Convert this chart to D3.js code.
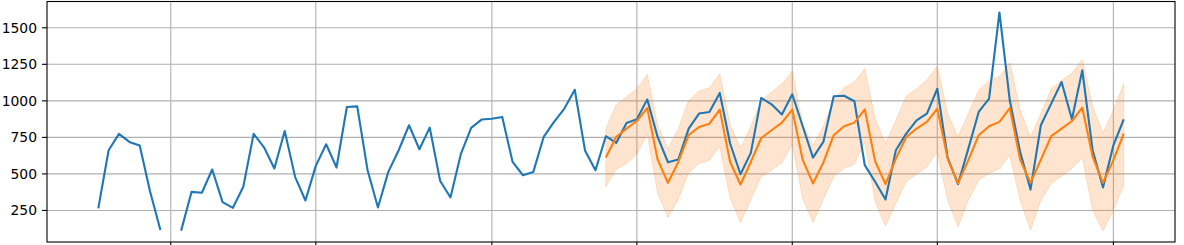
<!DOCTYPE html>
<html>
<head>
<meta charset="utf-8">
<script src="https://cdn.jsdelivr.net/npm/d3@7"></script>
<style>
  body { margin: 0; background: #fff; }
  svg { display: block; font-family: "DejaVu Sans", sans-serif; }
</style>
</head>
<body>
<div id="chart"></div>
<script>
// daily observations, starting 2019-12-25 (Jan 1 missing)
const startDate = new Date(2019, 11, 25);
const observed = [264, 662, 774, 719, 694, 380, 116, null, 112, 377,
  371, 530, 307, 268, 412, 774, 682, 537, 794, 480,
  318, 555, 703, 544, 958, 962, 525, 270, 514, 662,
  833, 669, 817, 453, 339, 635, 815, 872, 878, 890,
  582, 491, 514, 753, 856, 947, 1076, 658, 525, 758,
  712, 849, 874, 1010, 753, 580, 598, 810, 913, 924,
  1054, 708, 498, 644, 1020, 976, 906, 1045, 828, 612,
  719, 1031, 1035, 997, 560, 446, 325, 662, 776, 867,
  913, 1083, 612, 430, 673, 924, 1015, 1605, 1004, 651,
  393, 833, 981, 1129, 874, 1209, 662, 407, 696, 874];

// forecast starts at day index 49
const forecastStart = 49;
const forecast = [612, 753, 810, 862, 951, 598, 439, 582, 765, 821,
  844, 940, 582, 428, 582, 746, 799, 851, 940, 598,
  435, 578, 765, 826, 851, 942, 587, 430, 605, 753,
  810, 856, 947, 605, 435, 594, 765, 826, 856, 951,
  598, 439, 598, 758, 810, 862, 953, 617, 439, 594, 776];
const upper = [810, 974, 1026, 1083, 1181, 833, 673, 810, 1003, 1067,
  1090, 1186, 837, 678, 826, 1003, 1060, 1117, 1202, 840,
  696, 826, 1008, 1090, 1129, 1220, 878, 708, 867, 1031,
  1083, 1144, 1238, 913, 753, 913, 1072, 1140, 1167, 1261,
  935, 753, 913, 1083, 1140, 1190, 1281, 958, 780, 935, 1117];
const lower = [412, 530, 571, 635, 776, 366, 202, 327, 507, 571,
  594, 689, 332, 168, 325, 480, 525, 576, 703, 334,
  168, 325, 484, 537, 566, 719, 309, 143, 298, 446,
  498, 548, 651, 320, 138, 320, 457, 503, 537, 628,
  320, 116, 320, 434, 484, 537, 612, 252, 109, 252, 423];

const yTicks = [250, 500, 750, 1000, 1250, 1500];

const W = 1184, H = 245;
const margin = {left: 47, right: 9, top: 1.5, bottom: 3};

const days = observed.map((v, i) => d3.timeDay.offset(startDate, i));
const obsData = observed.map((v, i) => ({date: days[i], v: v}));
const fcData = forecast.map((v, i) => ({
  date: days[forecastStart + i], v: v,
  lo: lower[i], hi: upper[i]
}));

// matplotlib-like 5% padding
const t0 = +days[0], t1 = +days[days.length - 1];
const padT = (t1 - t0) * 0.05;
const x = d3.scaleTime()
  .domain([new Date(t0 - padT), new Date(t1 + padT)])
  .range([margin.left, W - margin.right]);

const allVals = observed.filter(v => v != null).concat(forecast, upper, lower);
const vMin = d3.min(allVals), vMax = d3.max(allVals);
const padV = (vMax - vMin) * 0.05;
const y = d3.scaleLinear()
  .domain([vMin - padV, vMax + padV])
  .range([H - margin.bottom, margin.top]);

// grid ticks on the 1st and 15th of each month
const xTicks = days.filter(d => d.getDate() === 1 || d.getDate() === 15);

const svg = d3.select('#chart').append('svg')
  .attr('width', W).attr('height', H);

const x0 = margin.left, x1 = W - margin.right;
const y0 = H - margin.bottom, y1 = margin.top;

// grid
svg.append('g').selectAll('line.gx')
  .data(xTicks).enter().append('line')
  .attr('x1', d => x(d)).attr('x2', d => x(d))
  .attr('y1', y0).attr('y2', y1)
  .attr('stroke', '#b0b0b0').attr('stroke-width', 1.1);
svg.append('g').selectAll('line.gy')
  .data(yTicks).enter().append('line')
  .attr('x1', x0).attr('x2', x1)
  .attr('y1', d => y(d)).attr('y2', d => y(d))
  .attr('stroke', '#b0b0b0').attr('stroke-width', 1.1);

// confidence band
const area = d3.area()
  .x(d => x(d.date))
  .y0(d => y(d.lo))
  .y1(d => y(d.hi));
svg.append('path')
  .datum(fcData)
  .attr('d', area)
  .attr('fill', '#ff7f0e').attr('fill-opacity', 0.2)
  .attr('stroke', '#ff7f0e').attr('stroke-opacity', 0.2).attr('stroke-width', 1);

const line = d3.line()
  .defined(d => d.v != null)
  .x(d => x(d.date))
  .y(d => y(d.v));

svg.append('path')
  .datum(obsData)
  .attr('d', line)
  .attr('fill', 'none')
  .attr('stroke', '#1f77b4').attr('stroke-width', 2.1)
  .attr('stroke-linejoin', 'round');

svg.append('path')
  .datum(fcData)
  .attr('d', line)
  .attr('fill', 'none')
  .attr('stroke', '#ff7f0e').attr('stroke-width', 2.1)
  .attr('stroke-linejoin', 'round');

// y axis ticks and labels
const yAxis = svg.append('g');
yTicks.forEach(t => {
  yAxis.append('line')
    .attr('x1', x0 - 5).attr('x2', x0)
    .attr('y1', y(t)).attr('y2', y(t))
    .attr('stroke', '#000').attr('stroke-width', 1.1);
  yAxis.append('text')
    .attr('x', x0 - 10).attr('y', y(t))
    .attr('dy', '0.35em')
    .attr('text-anchor', 'end')
    .attr('font-size', '13.9px')
    .attr('fill', '#000')
    .text(t);
});

// x tick marks (labels fall outside the picture)
svg.append('g').selectAll('line')
  .data(xTicks).enter().append('line')
  .attr('x1', d => x(d)).attr('x2', d => x(d))
  .attr('y1', y0).attr('y2', y0 + 5)
  .attr('stroke', '#000').attr('stroke-width', 1.1);

// frame
svg.append('rect')
  .attr('x', x0).attr('y', y1)
  .attr('width', x1 - x0).attr('height', y0 - y1)
  .attr('fill', 'none').attr('stroke', '#000').attr('stroke-width', 1.1);
</script>
</body>
</html>
